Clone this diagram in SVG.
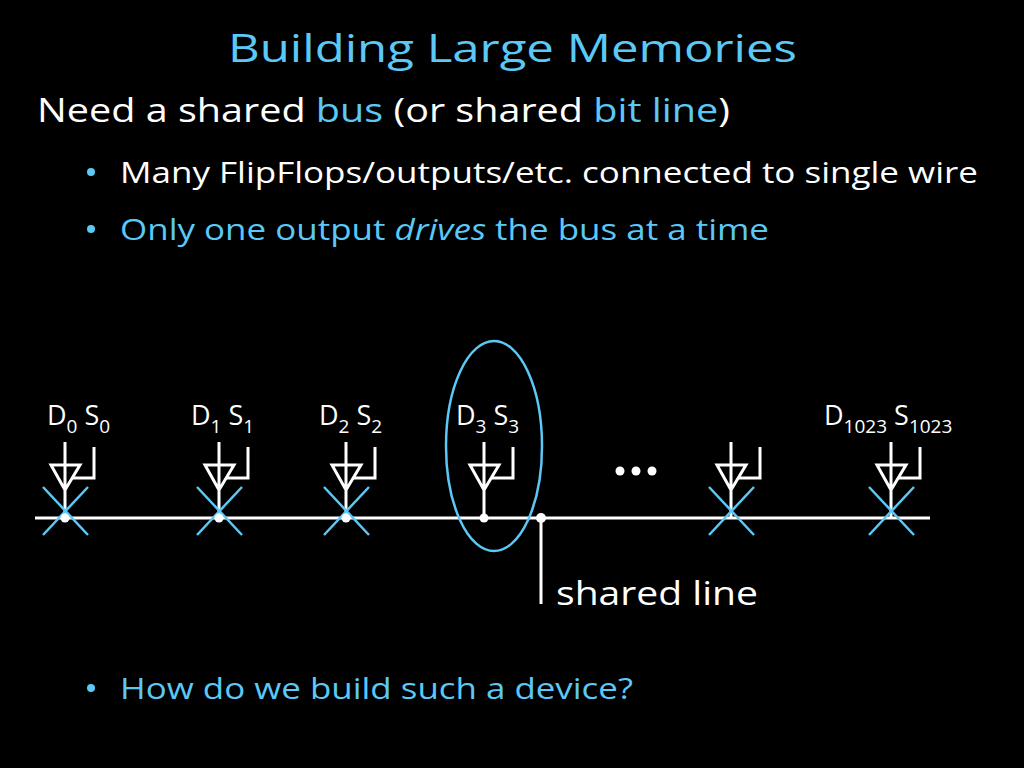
<svg xmlns="http://www.w3.org/2000/svg" width="1024" height="768" viewBox="0 0 1024 768">
<style>
text{font-family:"Open Sans","Liberation Sans",sans-serif;fill:#fff}
.b{fill:#5bc8f5}
.w{stroke:#fff;stroke-width:3;fill:none}
.x{stroke:#5bc8f5;stroke-width:2.5}
.l{font-size:27px}
.s{font-size:19px}
</style>
<defs>
<g id="buf" class="w"><path d="M0,442V518M-14,465H15L0,490Z"/><path d="M29,447V478H7"/></g>
<g id="cr" class="x"><path d="M-22,-31L23,17M23,-31L-22,17"/></g>
</defs>
<rect width="1024" height="768" fill="#000"/>
<text x="228" y="62" font-size="38" class="b" textLength="569" lengthAdjust="spacingAndGlyphs">Building Large Memories</text>
<text x="37" y="122" font-size="32" textLength="693" lengthAdjust="spacingAndGlyphs">Need a shared <tspan class="b">bus</tspan> (or shared <tspan class="b">bit line</tspan>)</text>
<circle cx="91" cy="172" r="4" class="b"/><text x="120" y="183" font-size="29" textLength="858" lengthAdjust="spacingAndGlyphs">Many FlipFlops/outputs/etc. connected to single wire</text>
<circle cx="91" cy="229" r="4" class="b"/><text x="120" y="240" font-size="29" class="b" textLength="649" lengthAdjust="spacingAndGlyphs">Only one output <tspan font-style="italic">drives</tspan> the bus at a time</text>
<circle cx="91" cy="688" r="4" class="b"/><text x="120" y="699" font-size="29" class="b" textLength="513" lengthAdjust="spacingAndGlyphs">How do we build such a device?</text>
<g id="labels">
<text x="47" y="425" class="l">D<tspan class="s" dy="8">0</tspan><tspan dy="-8"> S</tspan><tspan class="s" dy="8">0</tspan></text>
<text x="191" y="425" class="l">D<tspan class="s" dy="8">1</tspan><tspan dy="-8"> S</tspan><tspan class="s" dy="8">1</tspan></text>
<text x="319" y="425" class="l">D<tspan class="s" dy="8">2</tspan><tspan dy="-8"> S</tspan><tspan class="s" dy="8">2</tspan></text>
<text x="456" y="425" class="l">D<tspan class="s" dy="8">3</tspan><tspan dy="-8"> S</tspan><tspan class="s" dy="8">3</tspan></text>
<text x="824" y="425" class="l">D<tspan class="s" dy="8">1023</tspan><tspan dy="-8"> S</tspan><tspan class="s" dy="8">1023</tspan></text>
</g>
<g id="connectors">
<line x1="35" y1="518" x2="930" y2="518" stroke="#fff" stroke-width="3"/>
<line x1="541" y1="518" x2="541" y2="604" stroke="#fff" stroke-width="3"/>
</g>
<g id="n0"><use href="#buf" x="65"/><use href="#cr" x="65" y="518"/><circle cx="65" cy="518" r="4.5" fill="#fff"/></g>
<g id="n1"><use href="#buf" x="219"/><use href="#cr" x="219" y="518"/><circle cx="219" cy="518" r="4.5" fill="#fff"/></g>
<g id="n2"><use href="#buf" x="346"/><use href="#cr" x="346" y="518"/><circle cx="346" cy="518" r="4.5" fill="#fff"/></g>
<g id="n3"><use href="#buf" x="484"/><circle cx="484" cy="518" r="4.5" fill="#fff"/><ellipse cx="494" cy="446" rx="48" ry="105" fill="none" stroke="#5bc8f5" stroke-width="2.5"/></g>
<g id="n4"><use href="#buf" x="731"/><use href="#cr" x="731" y="518"/></g>
<g id="n5"><use href="#buf" x="891"/><use href="#cr" x="891" y="518"/></g>
<g id="tap"><circle cx="541" cy="518" r="5" fill="#fff"/><text x="556" y="605" font-size="32" textLength="202" lengthAdjust="spacingAndGlyphs">shared line</text></g>
<g id="dots" fill="#fff"><circle cx="620" cy="471" r="4.5"/><circle cx="636" cy="471" r="4.5"/><circle cx="652" cy="471" r="4.5"/></g>
</svg>
